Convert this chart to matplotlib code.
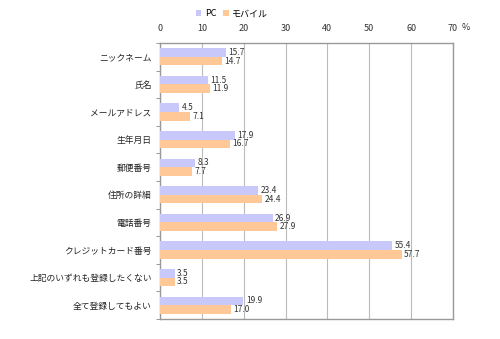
import numpy as np
import matplotlib
matplotlib.use('Agg')
import matplotlib.pyplot as plt

plt.rcParams['font.family'] = ['Noto Sans CJK JP', 'DejaVu Sans']

categories = ['ニックネーム', '氏名', 'メールアドレス', '生年月日', '郵便番号',
              '住所の詳細', '電話番号', 'クレジットカード番号',
              '上記のいずれも登録したくない', '全て登録してもよい']
pc = [15.7, 11.5, 4.5, 17.9, 8.3, 23.4, 26.9, 55.4, 3.5, 19.9]
mobile = [14.7, 11.9, 7.1, 16.7, 7.7, 24.4, 27.9, 57.7, 3.5, 17.0]
xticks = [0, 10, 20, 30, 40, 50, 60, 70]

pc_color = '#C8C8FA'
mb_color = '#FFC896'

fig = plt.figure(figsize=(5.0, 3.39), dpi=100)
ax = fig.add_axes([160/500, 1-319/339, 293/500, 276/339])

y = np.arange(len(categories))
h = 0.31
ax.barh(y - h/2, pc, height=h, color=pc_color, label='PC', zorder=3)
ax.barh(y + h/2, mobile, height=h, color=mb_color, label='モバイル', zorder=3)

for i in range(len(categories)):
    ax.text(pc[i] + 0.6, y[i] - h/2, '%.1f' % pc[i], va='center', ha='left', fontsize=6, color='#333333', zorder=4)
    ax.text(mobile[i] + 0.6, y[i] + h/2, '%.1f' % mobile[i], va='center', ha='left', fontsize=6, color='#333333', zorder=4)

ax.set_xlim(0, 70)
ax.set_ylim(len(categories) - 0.5, -0.5)
ax.set_xticks(xticks)
ax.xaxis.tick_top()
ax.tick_params(axis='x', length=0, labelsize=6.5, pad=7, colors='#333333')
ax.set_yticks(y)
ax.set_yticklabels(categories, fontsize=6.3, color='#222222')
ax.tick_params(axis='y', length=0, pad=6)
# small ticks between categories
ax.set_yticks(np.arange(-0.5, len(categories) + 0.5, 1), minor=True)
ax.tick_params(axis='y', which='minor', length=3, color='#888888', direction='out')
ax.grid(axis='x', color='#BBBBBB', linewidth=0.8, zorder=0)
for s in ax.spines.values():
    s.set_color('#999999')
    s.set_linewidth(1.0)

fig.text(466/500, 1-27/339, '%', fontsize=6.5, ha='center', va='center', color='#333333')
ax.legend(loc='center', bbox_to_anchor=(232/500, 1-14/339), bbox_transform=fig.transFigure,
          ncol=2, frameon=False, fontsize=6.5, handlelength=0.6, handleheight=0.6,
          handletextpad=0.4, columnspacing=0.8)

fig.savefig('out.png', dpi=100)
